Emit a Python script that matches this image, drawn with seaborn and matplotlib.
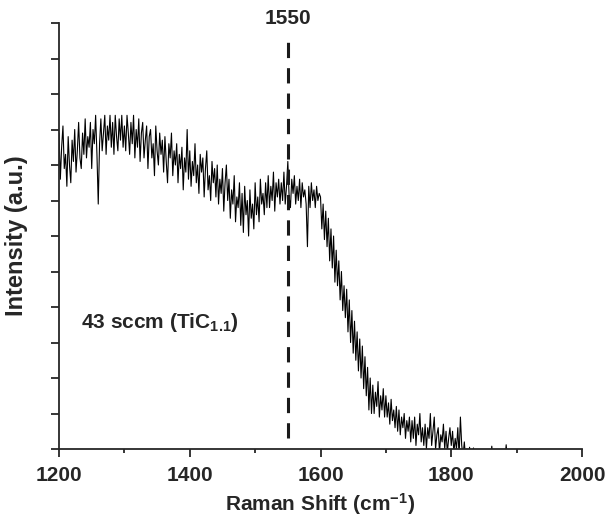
import matplotlib
matplotlib.use("Agg")
import matplotlib.pyplot as plt
import numpy as np
import pandas as pd
import seaborn as sns

# Raman spectrum, one value every 2 cm-1 from 1200 cm-1
shift_start = 1200
shift_step = 2
intensity = [
    8.9, 7.6, 8.5, 9.1, 7.9, 8.3, 7.4, 8.8, 8.0, 7.5,
    8.7, 8.1, 9.0, 7.8, 8.4, 9.2, 8.2, 7.9, 8.9, 8.3,
    9.3, 8.2, 8.8, 8.5, 9.2, 7.9, 9.0, 8.6, 9.4, 8.3,
    6.9, 8.6, 9.3, 8.4, 8.9, 9.4, 8.3, 9.1, 8.7, 9.4,
    8.5, 9.2, 8.3, 9.4, 8.8, 8.4, 9.3, 8.7, 9.4, 8.5,
    9.1, 8.4, 9.4, 8.9, 8.3, 9.2, 8.6, 9.4, 8.2, 9.0,
    8.5, 9.3, 8.1, 8.9, 9.2, 8.2, 8.7, 9.1, 7.9, 8.8,
    9.0, 8.2, 8.6, 7.7, 9.1, 8.4, 8.0, 8.9, 8.3, 8.7,
    7.8, 8.8, 8.1, 7.5, 8.6, 8.2, 8.9, 7.7, 8.4, 8.0,
    8.6, 7.5, 8.3, 7.9, 8.5, 7.3, 8.2, 7.8, 9.0, 7.6,
    8.4, 7.4, 8.1, 7.7, 8.6, 7.5, 8.0, 7.2, 8.3, 7.8,
    8.2, 7.1, 7.9, 8.4, 7.3, 7.7, 7.0, 8.1, 7.5, 7.9,
    7.1, 8.0, 6.9, 7.6, 7.2, 7.9, 6.7, 7.5, 8.0, 7.0,
    7.6, 6.5, 7.3, 6.9, 7.7, 6.4, 7.1, 6.8, 7.5, 6.3,
    7.2, 6.1, 7.4, 6.6, 7.0, 6.0, 7.3, 6.5, 6.9, 6.2,
    7.5, 6.6, 7.1, 6.4, 7.6, 6.9, 7.2, 6.6, 7.5, 6.8,
    7.7, 6.8, 7.4, 7.0, 7.8, 6.7, 7.5, 7.1, 7.6, 6.9,
    7.5, 7.0, 7.8, 6.9, 7.4, 8.1, 7.1, 6.8, 7.6, 7.2,
    7.7, 6.9, 7.4, 7.0, 7.6, 6.8, 7.5, 7.1, 7.3, 6.9,
    5.7, 7.4, 6.8, 7.5, 7.0, 7.3, 6.8, 7.4, 7.0, 7.2,
    7.1, 6.2, 6.9, 5.9, 6.7, 5.7, 6.5, 5.3, 6.2, 5.1,
    6.0, 4.7, 5.6, 4.6, 5.3, 4.2, 5.0, 3.9, 4.6, 3.7,
    4.5, 3.3, 4.2, 3.0, 3.9, 2.7, 3.6, 2.5, 3.3, 2.2,
    3.1, 2.0, 2.9, 1.7, 2.6, 1.5, 2.3, 1.1, 2.0, 1.0,
    1.8, 1.0, 1.6, 1.2, 1.9, 0.9, 1.5, 1.1, 1.7, 0.9,
    1.5, 0.9, 1.3, 0.7, 1.4, 0.8, 1.1, 0.6, 1.2, 0.5,
    1.1, 0.4, 0.9, 0.6, 1.0, 0.3, 0.8, 0.5, 0.9, 0.2,
    0.8, 0.3, 0.9, 0.1, 0.7, 0.4, 1.0, 0.2, 0.6, 0.1,
    0.7, 0.0, 0.6, 0.3, 1.0, 0.1, 0.5, 0.9, 0.0, 0.4,
    0.6, -0.1, 0.4, 0.2, 0.7, 0.0, 0.5, -0.1, 0.3, 0.6,
    0.1, 0.5, -0.1, 0.3, 0.0, 0.6, -0.2, 0.9, 0.1, -0.2,
    0.2, -0.3, 0.0, -0.3, 0.05, -0.3, -0.3, 0.03, -0.3, -0.3,
    -0.3, -0.3, -0.3, -0.3, -0.3, -0.3, -0.3, -0.3, -0.3, -0.3,
    -0.3, 0.08, -0.3, -0.3, -0.3, -0.3, -0.3, -0.3, -0.3, -0.3,
    -0.3, -0.3, 0.12, -0.3, -0.3, -0.3, -0.3, -0.3, -0.3, -0.3,
]
raman_shift = shift_start + shift_step * np.arange(len(intensity))

marker_shift = 1550
x_ticks = [1200, 1400, 1600, 1800, 2000]
x_minor_ticks = [1300, 1500, 1700, 1900]
y_ticks = list(range(13))

sns.set_style("ticks")
plt.rcParams["font.family"] = ["Liberation Sans", "DejaVu Sans"]
plt.rcParams["font.weight"] = "bold"
plt.rcParams["mathtext.fontset"] = "custom"
plt.rcParams["mathtext.rm"] = "Liberation Sans:bold"
plt.rcParams["mathtext.it"] = "Liberation Sans:bold"
plt.rcParams["mathtext.bf"] = "Liberation Sans:bold"
plt.rcParams["mathtext.default"] = "bf"

df = pd.DataFrame({"shift": raman_shift, "intensity": intensity})

fig = plt.figure(figsize=(6.06, 5.24), dpi=100)
ax = fig.add_axes([0.0974, 0.1431, 0.8630, 0.8130])

sns.lineplot(data=df, x="shift", y="intensity", ax=ax, color="black", linewidth=0.8)

ax.vlines(marker_shift, 0.3, 11.5, colors="#1a1a1a", linewidth=2.2,
          linestyles=(0, (5, 3.3)))
ax.text(marker_shift, 12.14, str(marker_shift), ha="center", va="center",
        fontsize=15, fontweight="bold", clip_on=False)
ax.text(1234, 3.55, r"43 sccm (TiC$_{1.1}$)", ha="left", va="center",
        fontsize=15, fontweight="bold")

ax.set_xlim(1200, 2000)
ax.set_ylim(0, 12)
ax.set_xticks(x_ticks)
ax.set_xticks(x_minor_ticks, minor=True)
ax.set_yticks(y_ticks)
ax.set_yticklabels([])
ax.tick_params(axis="both", which="major", direction="out", length=6, width=1.3,
               labelsize=15, pad=6)
ax.tick_params(axis="x", which="minor", direction="out", length=3, width=1.3)

ax.set_xlabel(r"Raman Shift (cm$^{-1}$)", fontsize=15, fontweight="bold")
ax.set_ylabel("Intensity (a.u.)", fontsize=17, fontweight="bold")
ax.xaxis.set_label_coords(0.5, -0.098)
ax.yaxis.set_label_coords(-0.059, 0.5)

sns.despine(ax=ax)
for side in ["left", "bottom"]:
    ax.spines[side].set_linewidth(1.3)

fig.savefig("out.png", dpi=100)
